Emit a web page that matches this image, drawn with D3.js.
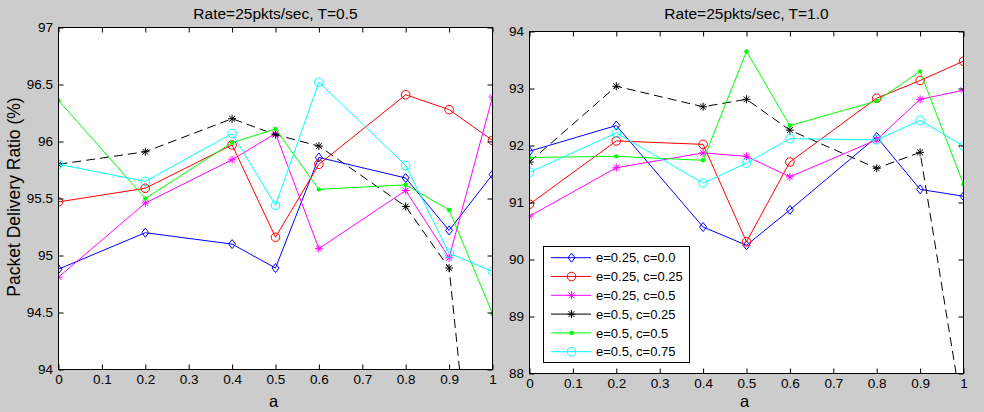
<!DOCTYPE html>
<html>
<head>
<meta charset="utf-8">
<script src="https://cdn.jsdelivr.net/npm/d3@7"></script>
<style>
  html, body { margin: 0; padding: 0; background: #cccccc; }
  svg { display: block; }
  text { font-family: "Liberation Sans", Arial, sans-serif; fill: #000; }
</style>
</head>
<body>
<svg id="chart" width="984" height="412"></svg>
<script>
// x values (a) shared by every series
var aVals = [0, 0.2, 0.4, 0.5, 0.6, 0.8, 0.9, 1];
var xTicks = [0, 0.1, 0.2, 0.3, 0.4, 0.5, 0.6, 0.7, 0.8, 0.9, 1];

var seriesNames = ["e=0.25, c=0.0", "e=0.25, c=0.25", "e=0.25, c=0.5",
                   "e=0.5, c=0.25", "e=0.5, c=0.5", "e=0.5, c=0.75"];

// Rate=25pkts/sec, T=0.5
var t05_e25_c00 = [94.88, 95.20, 95.10, 94.89, 95.86, 95.68, 95.22, 95.71];
var t05_e25_c25 = [95.47, 95.59, 95.97, 95.16, 95.80, 96.41, 96.28, 96.01];
var t05_e25_c50 = [94.81, 95.46, 95.84, 96.07, 95.06, 95.57, 94.98, 96.39];
var t05_e50_c25 = [95.80, 95.91, 96.20, 96.06, 95.96, 95.43, 94.89, 91.2];
var t05_e50_c50 = [96.36, 95.50, 95.99, 96.11, 95.58, 95.62, 95.40, 94.49];
var t05_e50_c75 = [95.80, 95.65, 96.07, 95.44, 96.52, 95.79, 95.02, 94.86];
var yTicksT05 = [94, 94.5, 95, 95.5, 96, 96.5, 97];

// Rate=25pkts/sec, T=1.0
var t10_e25_c00 = [91.90, 92.35, 90.57, 90.25, 90.87, 92.15, 91.23, 91.11];
var t10_e25_c25 = [90.97, 92.08, 92.02, 90.31, 91.71, 92.83, 93.14, 93.48];
var t10_e25_c50 = [90.76, 91.61, 91.87, 91.81, 91.45, 92.10, 92.81, 92.97];
var t10_e50_c25 = [91.71, 93.04, 92.68, 92.81, 92.27, 91.60, 91.88, 87.2];
var t10_e50_c50 = [91.79, 91.81, 91.74, 93.65, 92.35, 92.78, 93.30, 91.32];
var t10_e50_c75 = [91.53, 92.22, 91.34, 91.69, 92.12, 92.10, 92.44, 91.99];
var yTicksT10 = [88, 89, 90, 91, 92, 93, 94];

// line style per series (matlab style: color + marker + dash)
var styles = [
  {color: "#0000ff", marker: "diamond", dash: null},
  {color: "#ff0000", marker: "circle", dash: null},
  {color: "#ff00ff", marker: "star", dash: null},
  {color: "#000000", marker: "star", dash: "9,5"},
  {color: "#00ff00", marker: "dot", dash: null},
  {color: "#00ffff", marker: "circle", dash: null}
];

var svg = d3.select("#chart");

function drawMarker(g, type, x, y, color) {
  if (type == "diamond") {
    g.append("path")
      .attr("d", "M" + x + "," + (y - 4.5) + "L" + (x + 3.5) + "," + y + "L" + x + "," + (y + 4.5) + "L" + (x - 3.5) + "," + y + "Z")
      .attr("fill", "none").attr("stroke", color).attr("stroke-width", 1)
  } else if (type == "circle") {
    g.append("circle").attr("cx", x).attr("cy", y).attr("r", 4.3)
      .attr("fill", "none").attr("stroke", color).attr("stroke-width", 1)
  } else if (type == "star") {
    var r = 4, q = 2.9
    g.append("path")
      .attr("d", "M" + (x - r) + "," + y + "H" + (x + r) + "M" + x + "," + (y - r) + "V" + (y + r) +
                 "M" + (x - q) + "," + (y - q) + "L" + (x + q) + "," + (y + q) +
                 "M" + (x - q) + "," + (y + q) + "L" + (x + q) + "," + (y - q))
      .attr("fill", "none").attr("stroke", color).attr("stroke-width", 1)
  } else if (type == "dot") {
    g.append("circle").attr("cx", x).attr("cy", y).attr("r", 2.2).attr("fill", color)
  }
}

function drawPanel(opt) {
  var x = d3.scaleLinear().domain([0, 1]).range([opt.left, opt.right]);
  var y = d3.scaleLinear().domain(opt.yDomain).range([opt.bottom, opt.top]);
  var g = svg.append("g");

  g.append("rect")
    .attr("x", opt.left).attr("y", opt.top)
    .attr("width", opt.right - opt.left).attr("height", opt.bottom - opt.top)
    .attr("fill", "#fff");

  var clipId = "clip" + opt.id;
  svg.append("clipPath").attr("id", clipId).append("rect")
    .attr("x", opt.left).attr("y", opt.top)
    .attr("width", opt.right - opt.left).attr("height", opt.bottom - opt.top);

  var plot = g.append("g").attr("clip-path", "url(#" + clipId + ")");
  var line = d3.line().x(function(d, i) { return x(aVals[i]) }).y(function(d) { return y(d) });

  opt.series.forEach(function(vals, k) {
    var st = styles[k];
    plot.append("path").datum(vals)
      .attr("d", line)
      .attr("fill", "none")
      .attr("stroke", st.color)
      .attr("stroke-width", 1)
      .attr("stroke-dasharray", st.dash);
    vals.forEach(function(v, i) {
      drawMarker(plot, st.marker, x(aVals[i]), y(v), st.color)
    })
  });

  // axes, ticks inward on all four sides
  var tl = 5;
  var axB = d3.axisBottom(x).tickValues(xTicks).tickSize(-tl).tickPadding(5).tickFormat(d3.format("~g"));
  var axT = d3.axisTop(x).tickValues(xTicks).tickSize(-tl).tickFormat("");
  var axL = d3.axisLeft(y).tickValues(opt.yTicks).tickSize(-tl).tickPadding(5.5).tickFormat(d3.format("~g"));
  var axR = d3.axisRight(y).tickValues(opt.yTicks).tickSize(-tl).tickFormat("");

  [[axB, "translate(0," + opt.bottom + ")"], [axT, "translate(0," + opt.top + ")"],
   [axL, "translate(" + opt.left + ",0)"], [axR, "translate(" + opt.right + ",0)"]].forEach(function(a) {
    var ag = g.append("g").attr("transform", a[1]).call(a[0]);
    ag.select(".domain").remove();
    ag.selectAll("line").attr("stroke", "#000");
    ag.selectAll("text").attr("font-size", 13.5).attr("fill", "#000")
      .style("font-family", '"Liberation Sans", Arial, sans-serif');
  });

  g.append("rect")
    .attr("x", opt.left).attr("y", opt.top)
    .attr("width", opt.right - opt.left).attr("height", opt.bottom - opt.top)
    .attr("fill", "none").attr("stroke", "#000").attr("stroke-width", 1);

  g.append("text")
    .attr("x", (opt.left + opt.right) / 2).attr("y", opt.titleY)
    .attr("text-anchor", "middle").attr("font-size", 15.5)
    .text(opt.title);

  g.append("text")
    .attr("x", (opt.left + opt.right) / 2 - 2).attr("y", 407)
    .attr("text-anchor", "middle").attr("font-size", 16.5)
    .text("a");

  return {x: x, y: y, g: g};
}

var p1 = drawPanel({
  id: 1, left: 58.5, right: 492.5, top: 27.5, bottom: 369.5,
  yDomain: [94, 97], yTicks: yTicksT05, titleY: 18.5,
  title: "Rate=25pkts/sec, T=0.5",
  series: [t05_e25_c00, t05_e25_c25, t05_e25_c50, t05_e50_c25, t05_e50_c50, t05_e50_c75]
});

var p2 = drawPanel({
  id: 2, left: 529.5, right: 963.5, top: 31.5, bottom: 373.5,
  yDomain: [88, 94], yTicks: yTicksT10, titleY: 19,
  title: "Rate=25pkts/sec, T=1.0",
  series: [t10_e25_c00, t10_e25_c25, t10_e25_c50, t10_e50_c25, t10_e50_c50, t10_e50_c75]
});

// y label
svg.append("text")
  .attr("transform", "translate(20,197) rotate(-90)")
  .attr("text-anchor", "middle").attr("font-size", 17.5)
  .text("Packet Delivery Ratio (%)");

// legend inside the right panel (sample lines drawn solid, as in the original)
var lg = svg.append("g");
lg.append("rect").attr("x", 543.5).attr("y", 246.5).attr("width", 146).attr("height", 116)
  .attr("fill", "#fff").attr("stroke", "#000").attr("stroke-width", 1);
seriesNames.forEach(function(name, k) {
  var st = styles[k];
  var ry = 257.7 + k * 18.8;
  lg.append("line").attr("x1", 551).attr("x2", 591).attr("y1", ry).attr("y2", ry)
    .attr("stroke", st.color).attr("stroke-width", 1);
  drawMarker(lg, st.marker, 571.5, ry, st.color);
  lg.append("text").attr("x", 596).attr("y", ry + 4.7).attr("font-size", 13).text(name);
});
</script>
</body>
</html>
